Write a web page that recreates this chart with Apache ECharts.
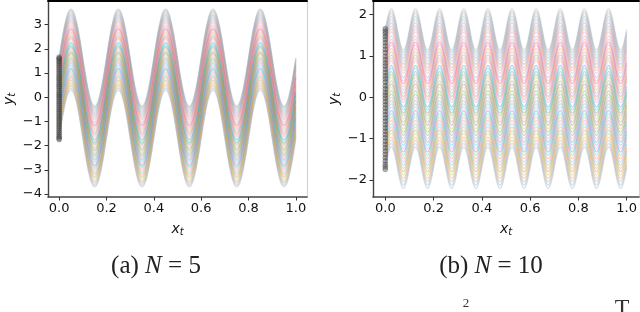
<!DOCTYPE html>
<html><head><meta charset="utf-8">
<script src="https://cdn.jsdelivr.net/npm/echarts@6/dist/echarts.min.js"></script>
<style>html,body{margin:0;padding:0;background:#fff}#c{width:640px;height:312px}</style>
</head><body><div id="c"></div>
<script>
// ---- data ----
const xTicks = [0, 0.2, 0.4, 0.6, 0.8, 1.0];
const yTicksA = [-4, -3, -2, -1, 0, 1, 2, 3];
const yTicksB = [-2, -1, 0, 1, 2];
// offsets of each trajectory (value at x = 0), top to bottom
const offsets = [1.64, 1.58, 1.52, 1.45, 1.38, 1.30, 1.22, 1.15, 1.08, 0.98, 0.90, 0.83, 0.76, 0.68, 0.60,
  0.52, 0.45, 0.38, 0.27, 0.20, 0.12, 0.05, -0.02, -0.10, -0.18, -0.26, -0.34, -0.42, -0.50, -0.58,
  -0.66, -0.74, -0.82, -0.90, -0.98, -1.06, -1.14, -1.22, -1.30, -1.38, -1.46, -1.54, -1.62, -1.70];
const lineColorNames = ['g', 'g', 'g', 'g', 'g', 'purple', 'g', 'orange', 'pink', 'g', 'pink', 'red', 'pink', 'orange', 'g',
  'purple', 'orange', 'pink', 'blue', 'cyan', 'green', 'purple', 'olive', 'gray', 'brown', 'olive', 'gray', 'green', 'pink', 'gray',
  'cyan', 'pink', 'blue', 'cyan', 'orange', 'pink', 'cyan', 'orange', 'gray', 'olive', 'orange', 'g', 'g', 'g'];
// initial points plotted at x = 0
const startPoints = [1.66, 1.60, 1.54, 1.47, 1.40, 1.32, 1.24, 1.16, 1.08, 0.99, 0.91, 0.83, 0.76, 0.68, 0.60,
  0.52, 0.45, 0.37, 0.28, 0.20, 0.12, 0.05, -0.02, -0.10, -0.18, -0.26, -0.34, -0.42, -0.50, -0.58,
  -0.66, -0.74, -0.82, -0.90, -0.98, -1.06, -1.14, -1.22, -1.30, -1.38, -1.46, -1.54, -1.62, -1.68, -1.74];
const waveA = [
  0, 0.77, 1.41, 1.85, 2, 1.85, 1.41, 0.77, 0, -0.77, -1.41, -1.85, -2, -1.85, -1.41, -0.77,
  0, 0.77, 1.41, 1.85, 2, 1.85, 1.41, 0.77, 0, -0.77, -1.41, -1.85, -2, -1.85, -1.41, -0.77,
  0, 0.77, 1.41, 1.85, 2, 1.85, 1.41, 0.77, 0, -0.77, -1.41, -1.85, -2, -1.85, -1.41, -0.77,
  0, 0.77, 1.41, 1.85, 2, 1.85, 1.41, 0.77, 0, -0.77, -1.41, -1.85, -2, -1.85, -1.41, -0.77,
  0, 0.77, 1.41, 1.85, 2, 1.85, 1.41, 0.77, 0, -0.77, -1.41, -1.85, -2, -1.85, -1.41, -0.77,
  0];
const waveB = [
  0, 0.19, 0.35, 0.46, 0.5, 0.46, 0.35, 0.19, 0, -0.19, -0.35, -0.46, -0.5, -0.46, -0.35, -0.19,
  0, 0.19, 0.35, 0.46, 0.5, 0.46, 0.35, 0.19, 0, -0.19, -0.35, -0.46, -0.5, -0.46, -0.35, -0.19,
  0, 0.19, 0.35, 0.46, 0.5, 0.46, 0.35, 0.19, 0, -0.19, -0.35, -0.46, -0.5, -0.46, -0.35, -0.19,
  0, 0.19, 0.35, 0.46, 0.5, 0.46, 0.35, 0.19, 0, -0.19, -0.35, -0.46, -0.5, -0.46, -0.35, -0.19,
  0, 0.19, 0.35, 0.46, 0.5, 0.46, 0.35, 0.19, 0, -0.19, -0.35, -0.46, -0.5, -0.46, -0.35, -0.19,
  0, 0.19, 0.35, 0.46, 0.5, 0.46, 0.35, 0.19, 0, -0.19, -0.35, -0.46, -0.5, -0.46, -0.35, -0.19,
  0, 0.19, 0.35, 0.46, 0.5, 0.46, 0.35, 0.19, 0, -0.19, -0.35, -0.46, -0.5, -0.46, -0.35, -0.19,
  0, 0.19, 0.35, 0.46, 0.5, 0.46, 0.35, 0.19, 0, -0.19, -0.35, -0.46, -0.5, -0.46, -0.35, -0.19,
  0, 0.19, 0.35, 0.46, 0.5, 0.46, 0.35, 0.19, 0, -0.19, -0.35, -0.46, -0.5, -0.46, -0.35, -0.19,
  0, 0.19, 0.35, 0.46, 0.5, 0.46, 0.35, 0.19, 0, -0.19, -0.35, -0.46, -0.5, -0.46, -0.35, -0.19,
  0];
const captionA = ['(a) ', 'N', ' = 5'];
const captionB = ['(b) ', 'N', ' = 10'];

// ---- styling ----
const palette = {
  blue: '#1f77b4', orange: '#ff7f0e', green: '#2ca02c', red: '#d62728', purple: '#9467bd',
  brown: '#8c564b', pink: '#e377c2', gray: '#7f7f7f', olive: '#bcbd22', cyan: '#17becf', g: '#a3acb5'
};
const chart = echarts.init(document.getElementById('c'), null, { renderer: 'canvas' });
const FONT = 'DejaVu Sans';
const minus = v => (v < 0 ? '\u2212' + Math.abs(v) : String(v));

function axesFor(gi, xMin, xMax, yMin, yMax, yTicks) {
  const nameRich = {
    i: { fontFamily: FONT, fontStyle: 'italic', fontSize: 14, color: '#111', lineHeight: 16 },
    s: { fontFamily: FONT, fontStyle: 'italic', fontSize: 10, color: '#111', lineHeight: 16, verticalAlign: 'bottom', padding: [6, 0, 0, 0] }
  };
  const xs = [
    {
      gridIndex: gi, type: 'value', min: xMin, max: xMax, position: 'bottom',
      axisLine: { onZero: false, lineStyle: { color: '#444', width: 1.6 } },
      axisTick: { length: 3.5, lineStyle: { color: '#333', width: 1 }, customValues: xTicks },
      axisLabel: { customValues: xTicks, formatter: v => v.toFixed(1), fontFamily: FONT, fontSize: 13, color: '#111', margin: 5 },
      splitLine: { show: false },
      name: '{i|x}{s|t}', nameLocation: 'middle', nameGap: 24,
      nameTextStyle: { rich: nameRich }
    },
    {
      gridIndex: gi, type: 'value', min: xMin, max: xMax, position: 'top',
      axisLine: { onZero: false, lineStyle: { color: '#000', width: 2 } },
      axisTick: { show: false }, axisLabel: { show: false }, splitLine: { show: false }
    }
  ];
  const ys = [
    {
      gridIndex: gi, type: 'value', min: yMin, max: yMax, position: 'left',
      axisLine: { onZero: false, lineStyle: { color: '#444', width: 1.4 } },
      axisTick: { length: 3.5, lineStyle: { color: '#333', width: 1 }, customValues: yTicks },
      axisLabel: { customValues: yTicks, formatter: minus, fontFamily: FONT, fontSize: 13, color: '#111', margin: 6 },
      splitLine: { show: false },
      name: '{i|y}{s|t}', nameLocation: 'middle', nameRotate: 90, nameGap: gi === 0 ? 31 : 31,
      nameTextStyle: { rich: nameRich }
    },
    {
      gridIndex: gi, type: 'value', min: yMin, max: yMax, position: 'right',
      axisLine: { onZero: false, lineStyle: { color: '#d4d4d4', width: 1.2 } },
      axisTick: { show: false }, axisLabel: { show: false }, splitLine: { show: false }
    }
  ];
  return { xs, ys };
}

const A = axesFor(0, -0.047, 1.047, -4.12, 3.98, yTicksA);
const B = axesFor(1, -0.051, 1.051, -2.41, 2.33, yTicksB);

const series = [];
function addPanel(wave, xAxisIndex, yAxisIndex) {
  const n = wave.length - 1;
  offsets.forEach((off, k) => {
    const isG = lineColorNames[k] === 'g';
    series.push({
      type: 'line', xAxisIndex, yAxisIndex, smooth: 0.35, showSymbol: false, silent: true,
      data: wave.map((w, i) => [i / n, off + w]),
      lineStyle: { color: palette[lineColorNames[k]], width: 1.3, opacity: isG ? 0.4 : 0.3 },
      z: 2
    });
  });
  series.push({
    type: 'scatter', xAxisIndex, yAxisIndex, silent: true, symbol: 'circle', symbolSize: 5,
    data: startPoints.map(v => [0, v]),
    itemStyle: { color: 'rgba(70,70,70,0.5)', borderColor: 'rgba(40,40,40,0.6)', borderWidth: 0.6 },
    z: 5
  });
}
addPanel(waveA, 0, 0);
addPanel(waveB, 2, 2);

const capRich = {
  r: { fontFamily: 'Liberation Serif', fontSize: 25, fill: '#222' },
  i: { fontFamily: 'Liberation Serif', fontStyle: 'italic', fontSize: 25, fill: '#222' }
};
chart.setOption({
  animation: false,
  backgroundColor: '#fff',
  grid: [
    { left: 43, top: 1, width: 264, height: 196 },
    { left: 373, top: 1, width: 266, height: 196 }
  ],
  xAxis: [...A.xs, ...B.xs],
  yAxis: [...A.ys, ...B.ys],
  series,
  graphic: [
    { type: 'text', x: 156, y: 266, style: { text: '{r|' + captionA[0] + '}{i|' + captionA[1] + '}{r|' + captionA[2] + '}', rich: capRich, align: 'center', verticalAlign: 'middle' } },
    { type: 'text', x: 491, y: 266, style: { text: '{r|' + captionB[0] + '}{i|' + captionB[1] + '}{r|' + captionB[2] + '}', rich: capRich, align: 'center', verticalAlign: 'middle' } },
    { type: 'text', x: 466, y: 297, style: { text: '2', font: '13px "Liberation Serif"', fill: '#333', align: 'center', verticalAlign: 'top' } },
    { type: 'text', x: 622, y: 297, style: { text: 'T', font: '24px "Liberation Serif"', fill: '#333', align: 'center', verticalAlign: 'top' } }
  ]
});
</script></body></html>
